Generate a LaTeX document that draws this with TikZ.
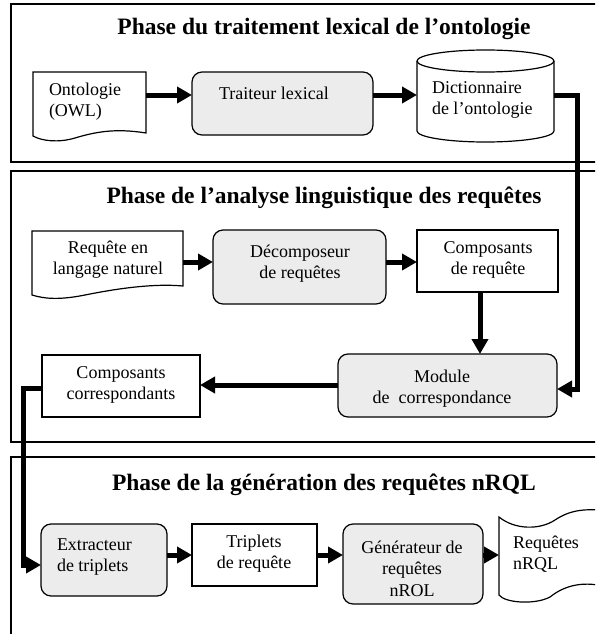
\documentclass[tikz,border=0pt]{standalone}
\usepackage{fontspec}
\setmainfont{Liberation Serif}
\usetikzlibrary{arrows.meta}
\begin{document}
\begin{tikzpicture}[x=1pt,y=-1pt,
  every node/.style={outer sep=0pt},
  panel/.style={draw=black, line width=1.5pt},
  boxline/.style={draw=black, line width=1.2pt},
  proc/.style={boxline, fill=gray!15, rounded corners=10pt, inner sep=0pt},
  plainbox/.style={boxline, fill=white, inner sep=0pt},
  shapebox/.style={draw=none, inner sep=0pt},
  txt/.style={inner sep=0pt, font=\fontsize{18}{21.5}\selectfont, align=center},
  ltxt/.style={inner sep=0pt, font=\fontsize{18}{21.5}\selectfont, align=left, anchor=west},
  ttl/.style={inner sep=0pt, font=\fontsize{23.5}{28}\selectfont\bfseries, anchor=base},
  arr/.style={line width=5pt, -{Triangle[length=15pt,width=16pt]}}
]
\useasboundingbox (0,0) rectangle (595,634);
\clip (0,0) rectangle (595,634);

% panels
\draw[panel] (11,4) rectangle (610,162);
\draw[panel] (11,171) rectangle (610,442);
\draw[panel] (11,457) rectangle (610,645);

% titles
\node[ttl] (t1) at (324,35) {Phase du traitement lexical de l’ontologie};
\node[ttl] (t2) at (324,203) {Phase de l’analyse linguistique des requêtes};
\node[ttl] (t3) at (324,490) {Phase de la génération des requêtes nRQL};

% ---- phase 1
\draw[boxline, fill=white] (33,72) -- (146,72) -- (146,133)
  .. controls (115,128) and (95,132) .. (75,138)
  .. controls (58,143) and (42,141) .. (33,136) -- cycle;
\node[shapebox, minimum width=113pt, minimum height=56pt] (ont) at (89.5,100) {};
\node[ltxt] (ontT) at (49,101.45) {\strut Ontologie\\\strut (OWL)};

\node[proc, minimum width=181pt, minimum height=63pt] (trait) at (282.5,103.5) {};
\node[txt] (traitT) at (274,94.7) {\strut Traiteur lexical};

\draw[boxline, fill=white] (417,61) -- (417,131) arc (180:0:68.5 and 11)
  -- (554,61) arc (0:-180:68.5 and 11) -- cycle;
\draw[boxline] (417,61) arc (180:0:68.5 and 11);
\node[shapebox, minimum width=137pt, minimum height=92pt] (dict) at (485.5,96) {};
\node[ltxt] (dictT) at (432,99.45) {\strut Dictionnaire\\\strut de l’ontologie};

% ---- phase 2
\draw[boxline, fill=white] (32,231) -- (183,231) -- (183,286)
  .. controls (150,283) and (110,290) .. (85,295)
  .. controls (60,300) and (45,299) .. (32,295) -- cycle;
\node[shapebox, minimum width=151pt, minimum height=54pt] (req) at (107.5,258) {};
\node[txt] (reqT) at (108,259.45) {\strut Requête en\\\strut langage naturel};

\node[proc, minimum width=173pt, minimum height=74pt] (dec) at (299.5,267) {};
\node[txt] (decT) at (300,263.45) {\strut Décomposeur\\\strut de requêtes};

\node[plainbox, minimum width=141pt, minimum height=62pt] (comp) at (487.5,261) {};
\node[txt] (compT) at (488,259.45) {\strut Composants\\\strut de requête};

\node[proc, minimum width=219pt, minimum height=63pt] (mod) at (447.5,385.5) {};
\node[txt] (modT) at (442,388.45) {\strut Module\\\strut de~~correspondance};

\node[plainbox, minimum width=158pt, minimum height=62pt] (cc) at (121,386) {};
\node[txt] (ccT) at (121,384.45) {\strut Composants\\\strut correspondants};

% ---- phase 3
\node[proc, minimum width=126pt, minimum height=72pt] (ext) at (104,560) {};
\node[ltxt] (extT) at (57,556.45) {\strut Extracteur\\\strut de triplets};

\node[plainbox, minimum width=125pt, minimum height=62pt] (trip) at (254.5,555) {};
\node[txt] (tripT) at (254,553.45) {\strut Triplets\\\strut de requête};

\node[proc, minimum width=140pt, minimum height=80pt] (gen) at (413,564) {};
\node[txt] (genT) at (412,570.2) {\strut Générateur de\\\strut requêtes\\\strut nROL};

\draw[boxline, fill=white] (499,517)
  .. controls (515,530) and (540,530) .. (555,520)
  .. controls (570,510) and (585,508) .. (610,511)
  -- (610,588)
  .. controls (585,580) and (565,585) .. (550,597)
  .. controls (535,605) and (505,603) .. (499,595) -- cycle;
\node[shapebox, minimum width=101pt, minimum height=76pt] (reqn) at (549.5,556) {};
\node[ltxt] (reqnT) at (513,554.45) {\strut Requêtes\\\strut nRQL};

% helper coordinates
\coordinate (h1) at (0,95);
\coordinate (h2) at (0,262);
\coordinate (h3) at (0,385);
\coordinate (h4) at (0,555);
\coordinate (hcc) at (0,388);
\coordinate (v1) at (480,0);
\coordinate (railR) at (577,389);
\coordinate (railL) at (23,565);

% connectors
\draw[arr] (ont.east |- h1) -- (trait.west |- h1);
\draw[arr] (trait.east |- h1) -- (dict.west |- h1);
\draw[arr] (dict.east |- h1) -| (railR) -- (mod.east |- railR);

\draw[arr] (req.east |- h2) -- (dec.west |- h2);
\draw[arr] (dec.east |- h2) -- (comp.west |- h2);
\draw[arr] (comp.south -| v1) -- (mod.north -| v1);
\draw[arr] (mod.west |- h3) -- (cc.east |- h3);
\draw[arr] (cc.west |- hcc) -| (railL) -- (ext.west |- railL);

\draw[arr] (ext.east |- h4) -- (trip.west |- h4);
\draw[arr] (trip.east |- h4) -- (gen.west |- h4);
\draw[arr] (gen.east |- h4) -- (reqn.west |- h4);
\end{tikzpicture}
\end{document}
